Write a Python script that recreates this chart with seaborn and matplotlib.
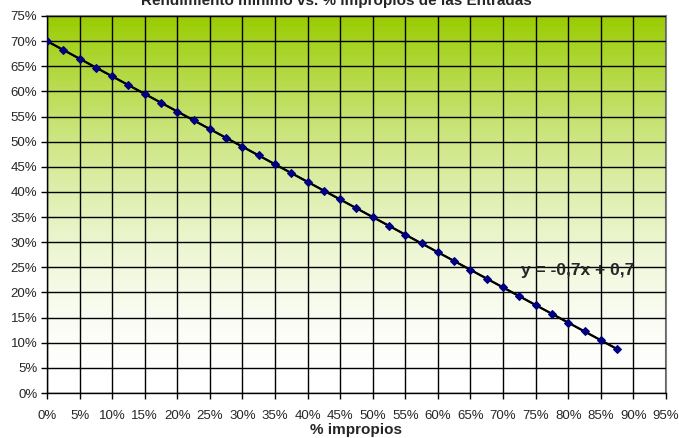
import numpy as np
import pandas as pd
import matplotlib
matplotlib.use('Agg')
import matplotlib.pyplot as plt
from matplotlib.colors import LinearSegmentedColormap
from matplotlib.ticker import PercentFormatter, MultipleLocator
import seaborn as sns

# data
impropios = [0.000, 0.025, 0.050, 0.075, 0.100, 0.125, 0.150, 0.175, 0.200,
             0.225, 0.250, 0.275, 0.300, 0.325, 0.350, 0.375, 0.400, 0.425,
             0.450, 0.475, 0.500, 0.525, 0.550, 0.575, 0.600, 0.625, 0.650,
             0.675, 0.700, 0.725, 0.750, 0.775, 0.800, 0.825, 0.850, 0.875]
rendimiento = [0.7000, 0.6825, 0.6650, 0.6475, 0.6300, 0.6125, 0.5950, 0.5775,
               0.5600, 0.5425, 0.5250, 0.5075, 0.4900, 0.4725, 0.4550, 0.4375,
               0.4200, 0.4025, 0.3850, 0.3675, 0.3500, 0.3325, 0.3150, 0.2975,
               0.2800, 0.2625, 0.2450, 0.2275, 0.2100, 0.1925, 0.1750, 0.1575,
               0.1400, 0.1225, 0.1050, 0.0875]
equation = 'y = -0,7x + 0,7'
title = 'Rendimiento mínimo vs. % impropios de las Entradas'

df = pd.DataFrame({'impropios': impropios, 'rendimiento': rendimiento})

sns.set_style('white')
plt.rcParams['font.family'] = ['Liberation Sans', 'DejaVu Sans']

fig = plt.figure(figsize=(6.79, 4.38), dpi=100)
ax = fig.add_axes([0.0692, 0.1027, 0.9116, 0.8608])

# background gradient: white at the bottom, green at the top (white dominates lower half)
cmap = LinearSegmentedColormap.from_list('bg', ['#ffffff', '#99cc00'])
grad = (np.linspace(0, 1, 256) ** 1.8).reshape(-1, 1)
ax.imshow(grad, cmap=cmap, origin='lower', extent=[0, 0.95, 0, 0.75],
          aspect='auto', zorder=0, interpolation='bicubic', vmin=0, vmax=1)

ax.set_xlim(0, 0.95)
ax.set_ylim(0, 0.75)
ax.xaxis.set_major_locator(MultipleLocator(0.05))
ax.yaxis.set_major_locator(MultipleLocator(0.05))
ax.xaxis.set_major_formatter(PercentFormatter(1.0, decimals=0))
ax.yaxis.set_major_formatter(PercentFormatter(1.0, decimals=0))
ax.grid(True, color='black', linewidth=1.0, zorder=1)
ax.set_axisbelow(False)

sns.regplot(data=df, x='impropios', y='rendimiento', ax=ax, scatter=False,
            ci=None, truncate=True, line_kws={'color': 'black', 'linewidth': 1.6, 'zorder': 3})
sns.lineplot(data=df, x='impropios', y='rendimiento', ax=ax, color='black',
             linewidth=1.2, marker='D', markersize=4.5, markerfacecolor='#000080',
             markeredgecolor='#000080', zorder=4)

ax.text(0.815, 0.243, equation, fontsize=12.5, fontweight='bold', ha='center',
        va='center', zorder=5)

for side in ['top', 'right']:
    ax.spines[side].set_color('#808080')
    ax.spines[side].set_linewidth(1.5)
for side in ['left', 'bottom']:
    ax.spines[side].set_color('black')
    ax.spines[side].set_linewidth(1.0)

ax.tick_params(axis='both', which='major', direction='out', length=4, width=1,
               color='black', labelsize=9.5, bottom=True, left=True, pad=3)
ax.tick_params(axis='x', pad=8)

ax.set_xlabel('% impropios', fontsize=11, fontweight='bold', labelpad=1)
ax.set_ylabel('')
fig.text(0.495, 0.997, title, fontsize=11, fontweight='bold', ha='center', va='center')

fig.savefig('out.png', dpi=100)
